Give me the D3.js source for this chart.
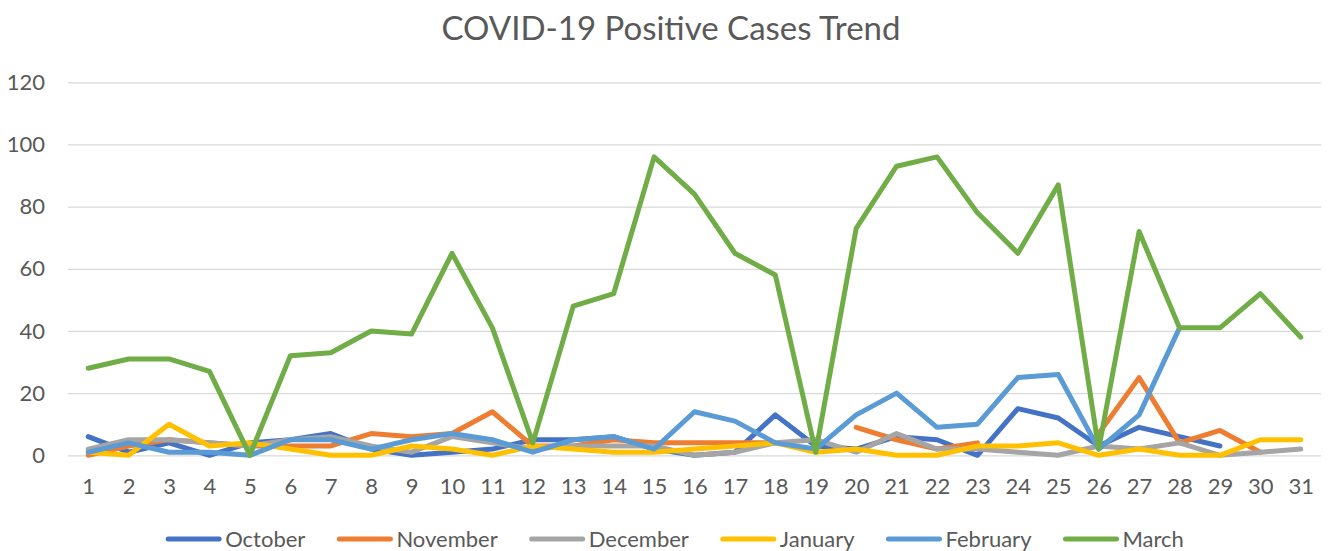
<!DOCTYPE html>
<html>
<head>
<meta charset="utf-8">
<script src="https://cdn.jsdelivr.net/npm/d3@7"></script>
<style>
  body { margin: 0; background: #fff; }
  svg { display: block; font-family: Lato, "Open Sans", sans-serif; }
</style>
</head>
<body>
<svg id="chart" width="1328" height="551"></svg>
<script>
const days = d3.range(1, 32);
const yTicks = [0, 20, 40, 60, 80, 100, 120];

// null = no value for that day (gap in the line)
const october = [6, 1, 4, 0, 4, 5, 7, 2, 0, 1, 2, 5, 5, 6, 2, 0, 1, 13, 3, 2, 6, 5, 0, 15, 12, 3, 9, 6, 3, null, null];
const november = [0, 3, 5, 4, 3, 3, 3, 7, 6, 7, 14, 3, 3, 5, 4, 4, 4, 4, null, 9, 5, 2, 4, null, null, 7, 25, 4, 8, 1, null];
const december = [2, 5, 5, 4, 3, 5, 6, 3, 1, 6, 4, 2, 3, 3, 3, 0, 1, 4, 5, 1, 7, 2, 2, 1, 0, 3, 2, 4, 0, 1, 2];
const january = [1, 0, 10, 3, 4, 2, 0, 0, 3, 2, 0, 3, 2, 1, 1, 2, 3, 4, 1, 2, 0, 0, 3, 3, 4, 0, 2, 0, 0, 5, 5];
const february = [1, 4, 1, 1, 0, 5, 5, 2, 5, 7, 5, 1, 5, 6, 2, 14, 11, 4, 2, 13, 20, 9, 10, 25, 26, 2, 13, 41, null, null, null];
const march = [28, 31, 31, 27, 0, 32, 33, 40, 39, 65, 41, 4, 48, 52, 96, 84, 65, 58, 1, 73, 93, 96, 78, 65, 87, 2, 72, 41, 41, 52, 38];

const series = [
  { name: 'October', values: october, color: '#4472C4' },
  { name: 'November', values: november, color: '#ED7D31' },
  { name: 'December', values: december, color: '#A5A5A5' },
  { name: 'January', values: january, color: '#FFC000' },
  { name: 'February', values: february, color: '#5B9BD5' },
  { name: 'March', values: march, color: '#70AD47' },
];

const svg = d3.select('#chart');
const plot = { left: 68, right: 1321, top: 82.3, bottom: 455.3 };
const labelFont = 'Lato, "Open Sans", sans-serif';

const x = d3.scalePoint()
  .domain(days)
  .range([plot.left, plot.right])
  .padding(0.5);

const y = d3.scaleLinear()
  .domain([0, 120])
  .range([plot.bottom, plot.top]);

/// title
svg.append('text')
  .attr('x', 671)
  .attr('y', 40)
  .attr('text-anchor', 'middle')
  .style('font-size', '33px')
  .style('fill', '#595959')
  .text('COVID-19 Positive Cases Trend');

/// gridlines + y labels
const yAxis = svg.append('g')
  .attr('transform', `translate(${plot.left},0)`)
  .call(d3.axisLeft(y).tickValues(yTicks).tickSize(-(plot.right - plot.left)).tickPadding(23));
yAxis.select('.domain').remove();
yAxis.selectAll('line').attr('stroke', '#D9D9D9').attr('stroke-width', 1.3);
yAxis.selectAll('text')
  .style('font-size', '22px')
  .style('fill', '#595959')
  .style('font-family', labelFont);

/// x labels
const xAxis = svg.append('g')
  .attr('transform', `translate(0,${plot.bottom})`)
  .call(d3.axisBottom(x).tickSize(0).tickPadding(23));
xAxis.select('.domain').remove();
xAxis.selectAll('text')
  .style('font-size', '22px')
  .style('fill', '#595959')
  .style('font-family', labelFont);

/// lines
const line = d3.line()
  .defined((d) => d != null)
  .x((_, i) => x(days[i]))
  .y((d) => y(d));

svg.append('g')
  .selectAll('path')
  .data(series)
  .enter().append('path')
  .attr('d', (s) => line(s.values))
  .attr('fill', 'none')
  .attr('stroke', (s) => s.color)
  .attr('stroke-width', 5)
  .attr('stroke-linejoin', 'round')
  .attr('stroke-linecap', 'round');

/// legend
const legend = svg.append('g').attr('transform', 'translate(0,539)');
const items = legend.selectAll('g')
  .data(series)
  .enter().append('g');
items.append('line')
  .attr('x1', 2).attr('x2', 53)
  .attr('stroke', (s) => s.color)
  .attr('stroke-width', 5)
  .attr('stroke-linecap', 'round');
items.append('text')
  .attr('x', 59)
  .attr('dy', '0.35em')
  .style('font-size', '22px')
  .style('fill', '#595959')
  .text((s) => s.name);

const widths = [];
items.each(function () {
  widths.push(59 + this.querySelector('text').getComputedTextLength());
});
const gap = 32;
const total = d3.sum(widths) + gap * (widths.length - 1);
let cx = 675 - total / 2;
items.attr('transform', (_, i) => {
  const t = `translate(${cx},0)`;
  cx += widths[i] + gap;
  return t;
});
</script>
</body>
</html>
